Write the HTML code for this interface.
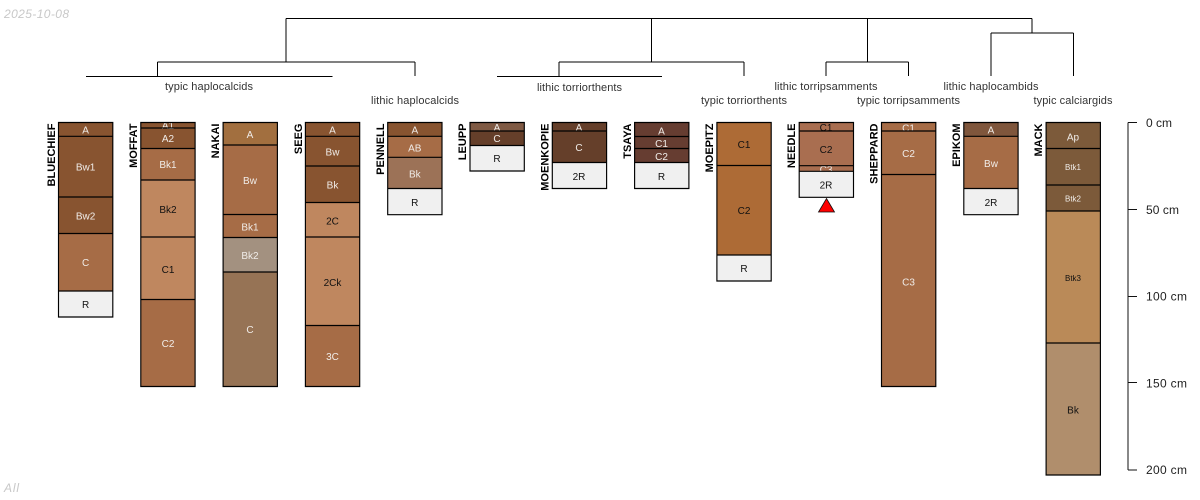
<!DOCTYPE html>
<html><head><meta charset="utf-8"><style>
html,body{margin:0;padding:0;background:#fff}
svg{display:block}
text{font-family:"Liberation Sans",sans-serif}
.h text{font-size:10px;text-anchor:middle;transform:translateY(.7px)}
.w{fill:#f0ece8}
.k{fill:#111}
.h text.s{font-size:8px}
.n{font-size:11px;font-weight:bold;fill:#000;text-anchor:end}
.t{font-size:11px;fill:#333;text-anchor:middle}
.a{font-size:12px;fill:#222}
.o{fill:none;stroke:#000;stroke-width:1.15}
.d{fill:none;stroke:#000;stroke-width:1}
</style></head><body>
<svg width="1200" height="500" viewBox="0 0 1200 500" xmlns="http://www.w3.org/2000/svg">
<rect width="1200" height="500" fill="#fff"/>
<text x="4" y="18" font-size="12" font-style="italic" fill="#c8c8c8" textLength="65">2025-10-08</text>
<text x="4" y="492" font-size="12" font-style="italic" fill="#c8c8c8" textLength="15">All</text>

<path class="d" d="M286 18.5H1032M286 18.5V62M651.5 18.5V62M867.5 18.5V62M1032 18.5V33M157.5 62H415M157.5 62V76M415 62V76M86 76.5H332.5M559 62H744M559 62V76M744 62V76M497 76.5H662M826 62H908.5M826 62V76M908.5 62V76M991 33H1073.5M991 33V76M1073.500 33V76"/>

<text class="t" x="209" y="90" textLength="88">typic haplocalcids</text>
<text class="t" x="415" y="104" textLength="88">lithic haplocalcids</text>
<text class="t" x="579.5" y="91" textLength="85">lithic torriorthents</text>
<text class="t" x="744" y="104" textLength="86">typic torriorthents</text>
<text class="t" x="826" y="90" textLength="103">lithic torripsamments</text>
<text class="t" x="908.5" y="104" textLength="103">typic torripsamments</text>
<text class="t" x="991" y="90" textLength="95">lithic haplocambids</text>
<text class="t" x="1073" y="104" textLength="79">typic calciargids</text>

<g class="h">
<rect x="58.5" y="122.5" width="54.3" height="13.8" fill="#885430"/><rect x="58.5" y="136.3" width="54.3" height="60.7" fill="#885430"/><rect x="58.5" y="197" width="54.3" height="36.5" fill="#885430"/><rect x="58.5" y="233.5" width="54.3" height="57.5" fill="#A66C46"/><rect x="58.5" y="291" width="54.3" height="26" fill="#F0F0F0"/>
<text class="w" x="85.6" y="133">A</text><text class="w" x="85.6" y="170">Bw1</text><text class="w" x="85.6" y="219">Bw2</text><text class="w" x="85.6" y="265.5">C</text><text class="k" x="85.6" y="307.5">R</text>
<path class="o" d="M58.5 122.5H112.8V317H58.5ZM58.5 136.3H112.8M58.5 197H112.8M58.5 233.5H112.8M58.5 291H112.8"/>
</g>
<text class="n" transform="translate(55 123.5) rotate(-90)">BLUECHIEF</text>

<g class="h">
<rect x="140.8" y="122.5" width="54.3" height="5.5" fill="#885430"/><rect x="140.8" y="128" width="54.3" height="20.5" fill="#885430"/><rect x="140.8" y="148.5" width="54.3" height="31.5" fill="#A66C46"/><rect x="140.8" y="180" width="54.3" height="57" fill="#BF875F"/><rect x="140.8" y="237" width="54.3" height="62.5" fill="#BF875F"/><rect x="140.8" y="299.5" width="54.3" height="87" fill="#A66C46"/>
<text class="w" x="168" y="128.5">A1</text><text class="w" x="168" y="141.5">A2</text><text class="w" x="168" y="167.5">Bk1</text><text class="k" x="168" y="212.5">Bk2</text><text class="k" x="168" y="272.5">C1</text><text class="w" x="168" y="346.5">C2</text>
<path class="o" d="M140.8 122.5H195.1V386.5H140.8ZM140.8 128H195.1M140.8 148.5H195.1M140.8 180H195.1M140.8 237H195.1M140.8 299.5H195.1"/>
</g>
<text class="n" transform="translate(137 123.5) rotate(-90)">MOFFAT</text>

<g class="h">
<rect x="223.1" y="122.5" width="54.3" height="22.5" fill="#A26F3F"/><rect x="223.1" y="145" width="54.3" height="69.5" fill="#A66C46"/><rect x="223.1" y="214.5" width="54.3" height="23" fill="#A66C46"/><rect x="223.1" y="237.5" width="54.3" height="34.5" fill="#A39180"/><rect x="223.1" y="272" width="54.3" height="114.5" fill="#967355"/>
<text class="w" x="250" y="137.5">A</text><text class="w" x="250" y="183.5">Bw</text><text class="w" x="250" y="230">Bk1</text><text class="w" x="250" y="258.5">Bk2</text><text class="w" x="250" y="332.5">C</text>
<path class="o" d="M223.1 122.5H277.4V386.5H223.1ZM223.1 145H277.4M223.1 214.5H277.4M223.1 237.5H277.4M223.1 272H277.4"/>
</g>
<text class="n" transform="translate(219 123.5) rotate(-90)">NAKAI</text>

<g class="h">
<rect x="305.4" y="122.5" width="54.3" height="13.8" fill="#885430"/><rect x="305.4" y="136.3" width="54.3" height="29.7" fill="#885430"/><rect x="305.4" y="166" width="54.3" height="36.5" fill="#885430"/><rect x="305.4" y="202.5" width="54.3" height="34.5" fill="#BF875F"/><rect x="305.4" y="237" width="54.3" height="88.5" fill="#BF875F"/><rect x="305.4" y="325.5" width="54.3" height="61" fill="#A66C46"/>
<text class="w" x="332.5" y="133">A</text><text class="w" x="332.5" y="155">Bw</text><text class="w" x="332.5" y="188">Bk</text><text class="k" x="332.5" y="224">2C</text><text class="k" x="332.5" y="285.5">2Ck</text><text class="w" x="332.5" y="359.5">3C</text>
<path class="o" d="M305.4 122.5H359.7V386.5H305.4ZM305.4 136.3H359.7M305.4 166H359.7M305.4 202.5H359.7M305.4 237H359.7M305.4 325.5H359.7"/>
</g>
<text class="n" transform="translate(302 123.5) rotate(-90)">SEEG</text>

<g class="h">
<rect x="387.7" y="122.5" width="54.3" height="13.8" fill="#885430"/><rect x="387.7" y="136.3" width="54.3" height="21" fill="#A66C46"/><rect x="387.7" y="157.3" width="54.3" height="31.2" fill="#9C7257"/><rect x="387.7" y="188.5" width="54.3" height="26.2" fill="#F0F0F0"/>
<text class="w" x="414.8" y="133">A</text><text class="w" x="414.8" y="151">AB</text><text class="w" x="414.8" y="177">Bk</text><text class="k" x="414.8" y="205.5">R</text>
<path class="o" d="M387.7 122.5H442V214.7H387.7ZM387.7 136.3H442M387.7 157.3H442M387.7 188.5H442"/>
</g>
<text class="n" transform="translate(384 123.5) rotate(-90)">PENNELL</text>

<g class="h">
<rect x="470" y="122.5" width="54.3" height="8.5" fill="#7F5A44"/><rect x="470" y="131" width="54.3" height="14.5" fill="#653F2A"/><rect x="470" y="145.5" width="54.3" height="25.5" fill="#F0F0F0"/>
<text class="w" x="497" y="130.5">A</text><text class="w" x="497" y="141.5">C</text><text class="k" x="497" y="161.5">R</text>
<path class="o" d="M470 122.5H524.3V171H470ZM470 131H524.3M470 145.5H524.3"/>
</g>
<text class="n" transform="translate(466 123.5) rotate(-90)">LEUPP</text>

<g class="h">
<rect x="552.3" y="122.5" width="54.3" height="8.5" fill="#653F2A"/><rect x="552.3" y="131" width="54.3" height="31.5" fill="#653F2A"/><rect x="552.3" y="162.5" width="54.3" height="26" fill="#F0F0F0"/>
<text class="w" x="579" y="130.5">A</text><text class="w" x="579" y="150.5">C</text><text class="k" x="579" y="179.5">2R</text>
<path class="o" d="M552.3 122.5H606.6V188.5H552.3ZM552.3 131H606.6M552.3 162.5H606.6"/>
</g>
<text class="n" transform="translate(548.5 123.5) rotate(-90)">MOENKOPIE</text>

<g class="h">
<rect x="634.6" y="122.5" width="54.3" height="14" fill="#663D31"/><rect x="634.6" y="136.5" width="54.3" height="12" fill="#663D31"/><rect x="634.6" y="148.5" width="54.3" height="14" fill="#663D31"/><rect x="634.6" y="162.5" width="54.3" height="26" fill="#F0F0F0"/>
<text class="w" x="661.5" y="134">A</text><text class="w" x="661.5" y="146.5">C1</text><text class="w" x="661.5" y="159.5">C2</text><text class="k" x="661.5" y="179.5">R</text>
<path class="o" d="M634.6 122.5H688.9V188.5H634.6ZM634.6 136.5H688.9M634.6 148.5H688.9M634.6 162.5H688.9"/>
</g>
<text class="n" transform="translate(631 123.5) rotate(-90)">TSAYA</text>

<g class="h">
<rect x="716.9" y="122.5" width="54.3" height="43" fill="#AD6B36"/><rect x="716.9" y="165.5" width="54.3" height="89.5" fill="#AD6B36"/><rect x="716.9" y="255" width="54.3" height="26" fill="#F0F0F0"/>
<text class="k" x="744" y="147.5">C1</text><text class="k" x="744" y="213.5">C2</text><text class="k" x="744" y="271.5">R</text>
<path class="o" d="M716.9 122.5H771.2V281H716.9ZM716.9 165.5H771.2M716.9 255H771.2"/>
</g>
<text class="n" transform="translate(713 123.5) rotate(-90)">MOEPITZ</text>

<g class="h">
<rect x="799.2" y="122.5" width="54.3" height="8.5" fill="#A96E50"/><rect x="799.2" y="131" width="54.3" height="34.7" fill="#A96E50"/><rect x="799.2" y="165.7" width="54.3" height="5.6" fill="#A96E50"/>
<text class="k" x="826" y="130.5">C1</text><text class="k" x="826" y="152.5">C2</text><text class="k" x="826" y="188">2R</text>
<rect x="799.2" y="171.3" width="54.3" height="26" fill="#F0F0F0"/>
<text class="k" x="826" y="188">2R</text><text class="w" x="826" y="172.5">C3</text>
<path class="o" d="M799.2 122.5H853.5V197.3H799.2ZM799.2 131H853.5M799.2 165.7H853.5M799.2 171.3H853.5"/>
</g>
<text class="n" transform="translate(795 123.5) rotate(-90)">NEEDLE</text>
<polygon points="826.5,198.5 834.5,212 818.5,212" fill="#f00" stroke="#111" stroke-width=".8"/>

<g class="h">
<rect x="881.5" y="122.5" width="54.3" height="8.5" fill="#A66C46"/><rect x="881.5" y="131" width="54.3" height="43.5" fill="#A66C46"/><rect x="881.5" y="174.5" width="54.3" height="212" fill="#A66C46"/>
<text class="w" x="908.5" y="131">C1</text><text class="w" x="908.5" y="156.5">C2</text><text class="w" x="908.5" y="285">C3</text>
<path class="o" d="M881.5 122.5H935.8V386.5H881.5ZM881.5 131H935.8M881.5 174.5H935.8"/>
</g>
<text class="n" transform="translate(877.5 123.5) rotate(-90)">SHEPPARD</text>

<g class="h">
<rect x="963.8" y="122.5" width="54.3" height="13.8" fill="#7F563C"/><rect x="963.8" y="136.3" width="54.3" height="52.2" fill="#A66C46"/><rect x="963.8" y="188.5" width="54.3" height="26.2" fill="#F0F0F0"/>
<text class="w" x="991" y="133">A</text><text class="w" x="991" y="166.5">Bw</text><text class="k" x="991" y="205.5">2R</text>
<path class="o" d="M963.8 122.5H1018.1V214.7H963.8ZM963.8 136.3H1018.1M963.8 188.5H1018.1"/>
</g>
<text class="n" transform="translate(960 123.5) rotate(-90)">EPIKOM</text>

<g class="h">
<rect x="1046.1" y="122.5" width="54.3" height="26" fill="#7C5A3A"/><rect x="1046.1" y="148.5" width="54.3" height="36.5" fill="#7C5A3A"/><rect x="1046.1" y="185" width="54.3" height="26" fill="#7C5A3A"/><rect x="1046.1" y="211" width="54.3" height="132" fill="#BA8A58"/><rect x="1046.1" y="343" width="54.3" height="132" fill="#B08E6C"/>
<text class="w" x="1073" y="140">Ap</text><text class="w s" x="1073" y="169.5">Btk1</text><text class="w s" x="1073" y="201">Btk2</text><text class="k s" x="1073" y="280.5">Btk3</text><text class="k" x="1073" y="413">Bk</text>
<path class="o" d="M1046.1 122.5H1100.4V475H1046.1ZM1046.1 148.5H1100.4M1046.1 185H1100.4M1046.1 211H1100.4M1046.1 343H1100.4"/>
</g>
<text class="n" transform="translate(1042 123.5) rotate(-90)">MACK</text>

<path d="M1128 122.5V470" fill="none" stroke="#111" stroke-width="1"/>
<path d="M1128 122.5H1137M1128 209.5H1137M1128 296.5H1137M1128 382.5H1137M1128 470H1137" fill="none" stroke="#111" stroke-width="1"/>
<text class="a" x="1146" y="126.8" textLength="26">0 cm</text>
<text class="a" x="1146" y="213.8" textLength="33">50 cm</text>
<text class="a" x="1146" y="300.6" textLength="41">100 cm</text>
<text class="a" x="1146" y="387.5" textLength="41">150 cm</text>
<text class="a" x="1146" y="473.9" textLength="41">200 cm</text>
</svg>
</body></html>
